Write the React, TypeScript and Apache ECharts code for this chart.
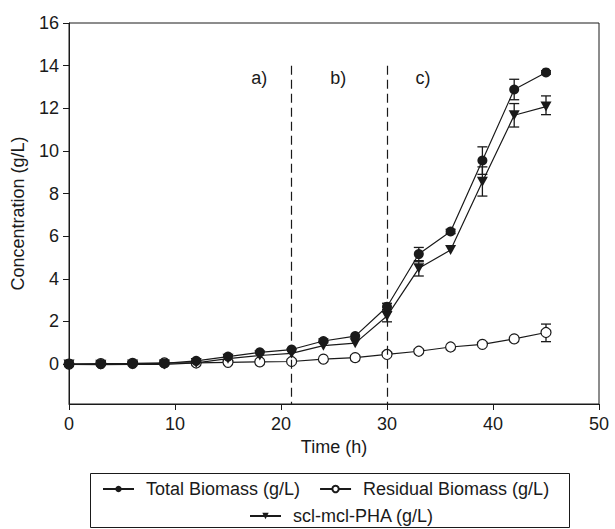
import React, { useEffect, useRef } from "react";
import * as echarts from "echarts";

const time = [0, 3, 6, 9, 12, 15, 18, 21, 24, 27, 30, 33, 36, 39, 42, 45];
const totalBiomass = [0, 0, 0.02, 0.03, 0.15, 0.35, 0.55, 0.68, 1.08, 1.31, 2.69, 5.16, 6.22, 9.55, 12.88, 13.68];
const residualBiomass = [0, 0.02, 0.03, 0.05, 0.05, 0.08, 0.1, 0.12, 0.23, 0.3, 0.45, 0.6, 0.8, 0.92, 1.18, 1.48];
const phaValues = [-0.02, -0.03, -0.02, -0.02, 0.05, 0.25, 0.4, 0.5, 0.86, 0.98, 2.25, 4.49, 5.35, 8.55, 11.67, 12.08];

// error bars: [time, low, high]
const totalErr = [
  [24, 1.0, 1.18],
  [30, 2.55, 2.85],
  [33, 4.85, 5.47],
  [36, 6.12, 6.32],
  [39, 8.9, 10.19],
  [42, 12.4, 13.36],
  [45, 13.6, 13.76],
];
const phaErr = [
  [30, 1.98, 2.45],
  [33, 4.13, 4.8],
  [39, 7.88, 9.25],
  [42, 11.12, 12.22],
  [45, 11.7, 12.58],
];
const residualErr = [[45, 1.05, 1.875]];

const yTicks = [0, 2, 4, 6, 8, 10, 12, 14, 16];
const phaseLines = [21, 30];
const phaseLabels = [
  { t: 17.95, y: 13.4, text: "a)" },
  { t: 25.4, y: 13.4, text: "b)" },
  { t: 33.4, y: 13.4, text: "c)" },
];

const names = {
  total: "Total Biomass (g/L)",
  residual: "Residual Biomass (g/L)",
  pha: "scl-mcl-PHA (g/L)",
};

const FONT = "'Liberation Sans', Arial, sans-serif";
const INK = "#1a1a1a";
const FS = 18;

function errRender(params: any, api: any) {
  const x = api.value(0);
  const lo = api.value(1);
  const hi = api.value(2);
  const p1 = api.coord([x, lo]);
  const p2 = api.coord([x, hi]);
  const w = 5;
  const style = { stroke: INK, lineWidth: 1.3 };
  return {
    type: "group",
    children: [
      { type: "line", shape: { x1: p1[0], y1: p1[1], x2: p2[0], y2: p2[1] }, style },
      { type: "line", shape: { x1: p1[0] - w, y1: p1[1], x2: p1[0] + w, y2: p1[1] }, style },
      { type: "line", shape: { x1: p2[0] - w, y1: p2[1], x2: p2[0] + w, y2: p2[1] }, style },
    ],
  };
}

export default function App() {
  const ref = useRef<HTMLDivElement>(null);
  useEffect(() => {
    document.body.style.margin = "0";
    if (!ref.current) return;
    const chart = echarts.init(ref.current, undefined, { renderer: "svg" });
    const zip = (ys: number[]) => time.map((t, i) => [t, ys[i]]);
    const legendText = { fontSize: FS, color: INK, fontFamily: FONT, padding: [0, 0, 0, 7] };
    const option: any = {
      animation: false,
      backgroundColor: "#ffffff",
      textStyle: { fontFamily: FONT },
      grid: {
        left: 69,
        right: 16,
        top: 23,
        bottom: 125,
        show: true,
        borderColor: INK,
        borderWidth: 1,
        backgroundColor: "transparent",
      },
      xAxis: {
        type: "value",
        min: 0,
        max: 50,
        interval: 10,
        name: "Time (h)",
        nameLocation: "middle",
        nameGap: 33,
        nameTextStyle: { fontSize: FS, color: INK, fontFamily: FONT },
        axisLine: { show: true, onZero: false, lineStyle: { color: INK, width: 1 } },
        axisTick: { show: true, length: 6, inside: false, lineStyle: { color: INK } },
        axisLabel: { fontSize: FS, color: INK, margin: 11, fontFamily: FONT },
        splitLine: { show: false },
      },
      yAxis: {
        type: "value",
        min: -1.875,
        max: 16,
        name: "Concentration (g/L)",
        nameLocation: "middle",
        nameGap: 42,
        nameTextStyle: { fontSize: FS, color: INK, fontFamily: FONT },
        axisLine: { show: true, onZero: false, lineStyle: { color: INK, width: 1 } },
        axisTick: { show: true, length: 6, customValues: yTicks, lineStyle: { color: INK } },
        axisLabel: { fontSize: FS, color: INK, margin: 10, customValues: yTicks, fontFamily: FONT },
        splitLine: { show: false },
      },
      legend: [
        {
          data: [names.total, names.residual],
          left: 100,
          top: 478,
          itemWidth: 31,
          itemHeight: 8,
          itemGap: 19,
          padding: 2,
          textStyle: legendText,
          selectedMode: false,
        },
        {
          data: [names.pha],
          left: 247,
          top: 505,
          itemWidth: 31,
          itemHeight: 8,
          padding: 2,
          textStyle: legendText,
          selectedMode: false,
        },
      ],
      graphic: [
        {
          type: "rect",
          shape: { x: 90.5, y: 473.5, width: 479, height: 54 },
          style: { fill: "none", stroke: INK, lineWidth: 1 },
          silent: true,
        },
      ],
      series: [
        {
          name: "phases",
          type: "scatter",
          data: phaseLabels.map((p) => [p.t, p.y, p.text]),
          symbolSize: 0,
          itemStyle: { color: INK, opacity: 1 },
          label: {
            show: true,
            position: "inside",
            formatter: (p: any) => p.value[2],
            fontSize: FS,
            color: INK,
            opacity: 1,
            fontFamily: FONT,
            textBorderWidth: 0,
          },
          emphasis: { disabled: true },
          markLine: {
            silent: true,
            symbol: "none",
            label: { show: false },
            lineStyle: { color: INK, width: 1.2, type: [9, 5], opacity: 1 },
            data: phaseLines.map((t) => [
              { coord: [t, 14] },
              { coord: [t, -1.875] },
            ]),
          },
          z: 1,
        },
        {
          name: "totalErr",
          type: "custom",
          renderItem: errRender,
          data: totalErr,
          encode: { x: 0, y: [1, 2] },
          z: 2,
        },
        {
          name: "phaErr",
          type: "custom",
          renderItem: errRender,
          data: phaErr,
          encode: { x: 0, y: [1, 2] },
          z: 2,
        },
        {
          name: "resErr",
          type: "custom",
          renderItem: errRender,
          data: residualErr,
          encode: { x: 0, y: [1, 2] },
          z: 2,
        },
        {
          name: names.residual,
          type: "line",
          data: zip(residualBiomass),
          symbol: "circle",
          symbolSize: 10,
          showAllSymbol: true,
          lineStyle: { color: INK, width: 1.2 },
          itemStyle: { color: "#ffffff", borderColor: INK, borderWidth: 1.2 },
          z: 3,
        },
        {
          name: names.pha,
          type: "line",
          data: zip(phaValues),
          symbol: "triangle",
          symbolRotate: 180,
          symbolSize: [11, 10],
          showAllSymbol: true,
          lineStyle: { color: INK, width: 1.2 },
          itemStyle: { color: INK, borderColor: INK, borderWidth: 0 },
          z: 4,
        },
        {
          name: names.total,
          type: "line",
          data: zip(totalBiomass),
          symbol: "circle",
          symbolSize: 10,
          showAllSymbol: true,
          lineStyle: { color: INK, width: 1.2 },
          itemStyle: { color: INK, borderColor: INK, borderWidth: 0 },
          z: 5,
        },
      ],
    };
    chart.setOption(option);
    return () => chart.dispose();
  }, []);
  return <div ref={ref} style={{ width: 615, height: 529 }} />;
}
